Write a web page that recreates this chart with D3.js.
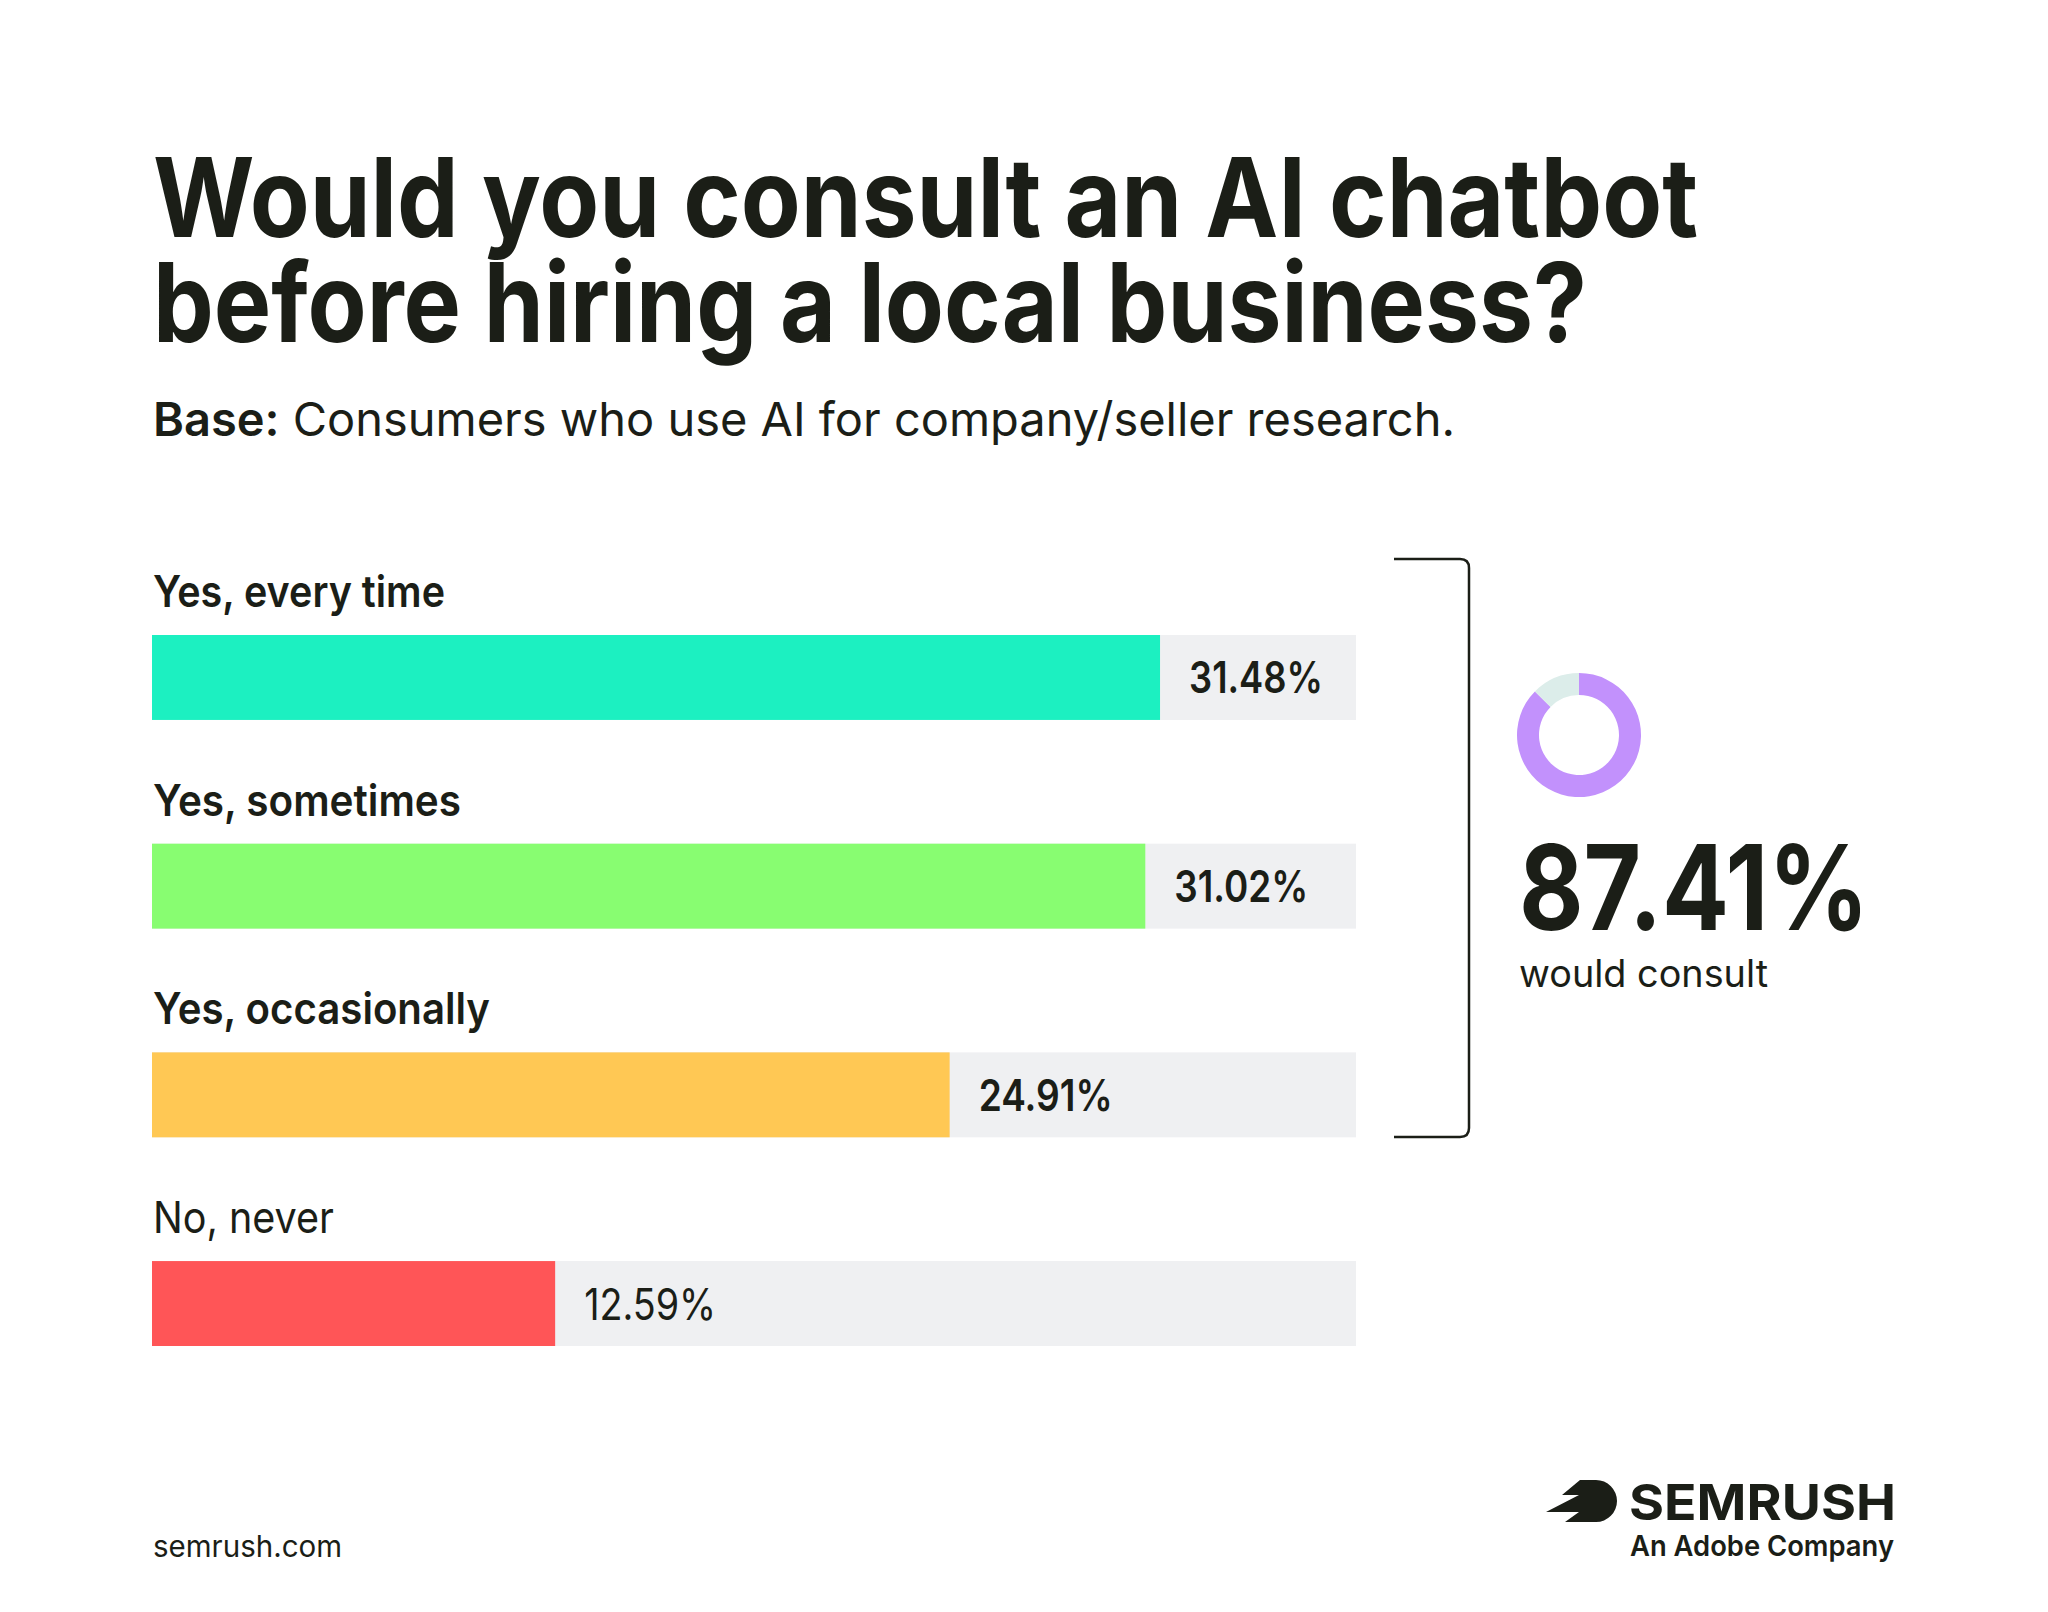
<!DOCTYPE html>
<html>
<head>
<meta charset="utf-8">
<script src="https://cdn.jsdelivr.net/npm/d3@7"></script>
<style>
  html, body { margin: 0; padding: 0; background: #ffffff; }
  svg { display: block; }
  text { font-family: Inter, "Noto Sans", sans-serif; fill: #1b1e17; }
</style>
</head>
<body>
<svg id="chart" width="2048" height="1612"></svg>
<script>
// ---- data ----
const titleLines = ["Would you consult an AI chatbot", "before hiring a local business?"];
const subtitleBold = "Base:";
const subtitleRest = " Consumers who use AI for company/seller research.";
const categories = ["Yes, every time", "Yes, sometimes", "Yes, occasionally", "No, never"];
const values = [31.48, 31.02, 24.91, 12.59];
const valueLabels = ["31.48%", "31.02%", "24.91%", "12.59%"];
const barColors = ["#1cf0c1", "#88fd71", "#ffc854", "#ff5557"];
const summaryValue = 87.41;
const summaryLabel = "87.41%";
const summaryCaption = "would consult";
const footerLeft = "semrush.com";
const brandName = "SEMRUSH";
const brandTag = "An Adobe Company";

// ---- layout ----
const svg = d3.select("#chart");
const W = 2048, H = 1612;
svg.append("rect").attr("width", W).attr("height", H).attr("fill", "#ffffff");

function fit(sel, w) {
  sel.attr("textLength", w).attr("lengthAdjust", "spacingAndGlyphs");
  return sel;
}

// Title
const titleWidths = [1545, 1434];
titleLines.forEach((t, i) => {
  fit(svg.append("text")
    .attr("x", 153).attr("y", 237 + i * 104.5)
    .attr("font-size", 110).attr("font-weight", 700)
    .text(t), titleWidths[i]);
});

// Subtitle
const sub = svg.append("text").attr("x", 153).attr("y", 436).attr("font-size", 47);
sub.append("tspan").attr("font-weight", 600).text(subtitleBold);
sub.append("tspan").attr("font-weight", 400).text(subtitleRest);
fit(sub, 1302);

// Bars
const x = d3.scaleLinear().domain([0, 37.6]).range([152, 1356]);
const y = d3.scaleBand().domain(categories).range([635, 1346]).paddingInner(0.593).paddingOuter(0);

const labelWidths = [292, 308, 337, 181];
const valueWidths = [134, 134, 134, 132];

const g = svg.append("g");
const rows = g.selectAll("g.row").data(categories).join("g").attr("class", "row");

rows.append("rect")
  .attr("x", x(0)).attr("y", d => y(d))
  .attr("width", x.range()[1] - x(0)).attr("height", y.bandwidth())
  .attr("fill", "#eff0f2");

rows.append("rect")
  .attr("x", x(0)).attr("y", d => y(d))
  .attr("width", (d, i) => x(values[i]) - x(0)).attr("height", y.bandwidth())
  .attr("fill", (d, i) => barColors[i]);

rows.each(function (d, i) {
  const r = d3.select(this);
  fit(r.append("text")
    .attr("x", 153).attr("y", y(d) - 28)
    .attr("font-size", 44).attr("font-weight", i < 3 ? 600 : 400)
    .text(d), labelWidths[i]);
  fit(r.append("text")
    .attr("x", x(values[i]) + 29).attr("y", y(d) + y.bandwidth() / 2 + 16)
    .attr("font-size", 44).attr("font-weight", i < 3 ? 600 : 400)
    .text(valueLabels[i]), valueWidths[i]);
});

// Bracket
const bx0 = 1394, bx1 = 1469, by0 = 559, by1 = 1137, br = 9;
svg.append("path")
  .attr("d", `M${bx0},${by0} H${bx1 - br} Q${bx1},${by0} ${bx1},${by0 + br} V${by1 - br} Q${bx1},${by1} ${bx1 - br},${by1} H${bx0}`)
  .attr("fill", "none").attr("stroke", "#1b1e17").attr("stroke-width", 2.5);

// Donut
const pie = d3.pie().sort(null).value(d => d)([summaryValue, 100 - summaryValue]);
const arc = d3.arc().innerRadius(40).outerRadius(62);
const donut = svg.append("g").attr("transform", "translate(1579,735)");
donut.selectAll("path").data(pie).join("path")
  .attr("d", arc)
  .attr("fill", (d, i) => i === 0 ? "#c291fc" : "#dcedea");

fit(svg.append("text").attr("x", 1519).attr("y", 930)
  .attr("font-size", 118).attr("font-weight", 700).text(summaryLabel), 350);
fit(svg.append("text").attr("x", 1519).attr("y", 987)
  .attr("font-size", 38).attr("font-weight", 400).text(summaryCaption), 249);

// Footer
fit(svg.append("text").attr("x", 153).attr("y", 1557)
  .attr("font-size", 30).attr("font-weight", 400).text(footerLeft), 189);

// Brand logo
svg.append("path")
  .attr("d", "M1580,1480 L1596,1480 A21,21 0 0 1 1596,1522 L1565,1522 L1579,1512 L1546,1512 L1579,1495 L1562,1495 Z")
  .attr("fill", "#1b1e17");
fit(svg.append("text").attr("x", 1629).attr("y", 1520)
  .attr("font-size", 50).attr("font-weight", 700).text(brandName), 267);
fit(svg.append("text").attr("x", 1630).attr("y", 1556)
  .attr("font-size", 29).attr("font-weight", 600).text(brandTag), 264);
</script>
</body>
</html>
